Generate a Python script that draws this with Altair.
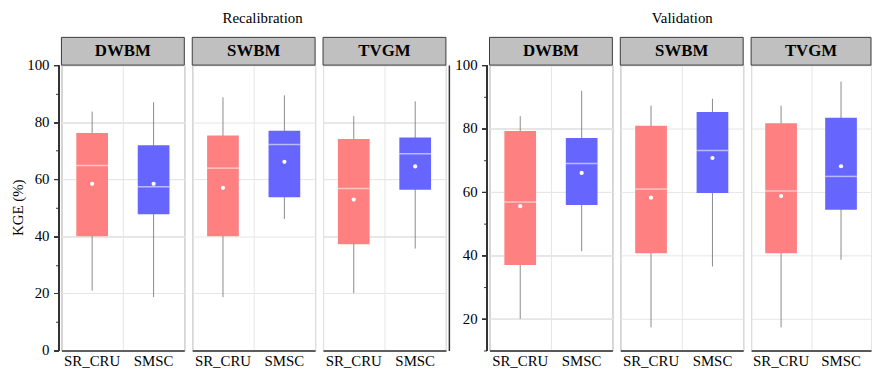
import altair as alt
import pandas as pd

groups = ["Recalibration", "Validation"]
models = ["DWBM", "SWBM", "TVGM"]
sources = ["SR_CRU", "SMSC"]

# order: group -> model -> source
lower  = [21.0, 18.7, 18.7, 46.1, 20.1, 35.7,   20.0, 41.3, 17.3, 36.5, 17.3, 38.6]
q1     = [40.0, 47.7, 40.0, 53.7, 37.2, 56.3,   37.0, 55.9, 40.7, 59.7, 40.7, 54.4]
median = [64.8, 57.4, 63.9, 72.2, 56.8, 68.9,   56.8, 69.0, 60.9, 73.1, 60.3, 64.9]
q3     = [76.2, 71.9, 75.3, 77.0, 74.1, 74.6,   79.2, 77.0, 80.9, 85.2, 81.7, 83.4]
upper  = [83.7, 87.0, 88.7, 89.4, 82.1, 87.3,   83.9, 91.9, 87.2, 89.4, 87.2, 94.8]
mean   = [58.4, 58.4, 57.0, 66.1, 52.9, 64.5,   55.5, 66.0, 58.2, 70.7, 58.7, 68.1]

y_domains = {"Recalibration": [0, 100], "Validation": [10, 100]}
y_major = {"Recalibration": [0, 20, 40, 60, 80, 100], "Validation": [20, 40, 60, 80, 100]}
y_minor = [10, 30, 50, 70, 90]
y_title = "KGE (%)"
colors = ["#ff8080", "#6666ff"]

rows = []
i = 0
for g in groups:
    for m in models:
        for s in sources:
            rows.append(dict(group=g, model=m, source=s, lower=lower[i], q1=q1[i],
                             median=median[i], q3=q3[i], upper=upper[i], mean=mean[i]))
            i += 1
df = pd.DataFrame(rows)

FONT = "Liberation Serif"
H = 288


def panel(group, model, width, first, right_line):
    sub = df[(df.group == group) & (df.model == model)]
    yscale = alt.Scale(domain=y_domains[group], nice=False, zero=False)
    xscale = alt.Scale(domain=sources, paddingInner=0, paddingOuter=0)
    xenc = alt.X("source:N", sort=sources, scale=xscale,
                 axis=alt.Axis(title=None, tickBand="extent", ticks=False, labels=False,
                               grid=True, gridColor="#e6e6e6", domainColor="#333333",
                               domainWidth=1.5))
    if first:
        yaxis = alt.Axis(values=y_major[group], title=None, labels=False,
                         grid=True, gridColor="#e6e6e6", tickSize=5, orient="left", offset=3,
                         domainColor="#333333", domainWidth=1.5, tickColor="#333333")
    else:
        yaxis = alt.Axis(values=y_major[group], title=None, labels=False, ticks=False,
                         domain=False, grid=True, gridColor="#e6e6e6", orient="left")
    base = alt.Chart(sub)
    whisk = base.mark_rule(color="#8a8a8a", strokeWidth=1).encode(
        x=xenc, y=alt.Y("lower:Q", scale=yscale, axis=yaxis), y2="upper:Q")
    box = base.mark_bar(size=32).encode(
        x=xenc, y=alt.Y("q1:Q", scale=yscale, axis=yaxis), y2="q3:Q",
        color=alt.Color("source:N", scale=alt.Scale(domain=sources, range=colors), legend=None))
    med = base.mark_tick(size=32, thickness=1.5, color="white", opacity=0.55).encode(
        x=xenc, y=alt.Y("median:Q", scale=yscale, axis=yaxis))
    mn = base.mark_circle(size=18, color="white", opacity=1).encode(
        x=xenc, y=alt.Y("mean:Q", scale=yscale, axis=yaxis))
    # x tick labels as text
    xlab = base.mark_text(font=FONT, fontSize=15, color="black", baseline="top").encode(
        x=alt.X("source:N", sort=sources, scale=xscale), y=alt.value(H + 4), text="source:N")
    strip_df = pd.DataFrame({"model": [model]})
    strip = alt.Chart(strip_df).mark_rect(fill="#c0c0c0", stroke="#3a3a3a", strokeWidth=1).encode(
        x=alt.value(0), x2=alt.value(width), y=alt.value(-28), y2=alt.value(0))
    label = alt.Chart(strip_df).mark_text(font=FONT, fontSize=17, fontWeight="bold",
                                          color="black").encode(
        x=alt.value(width / 2), y=alt.value(-14), text="model:N")
    layers = [whisk, box, med, mn, xlab, strip, label]
    independent = False
    if first:
        tick_df = pd.DataFrame({"v": y_major[group]})
        ylab = alt.Chart(tick_df).mark_text(font=FONT, fontSize=15, color="black", align="right",
                                            baseline="middle").encode(
            x=alt.value(-12), y=alt.Y("v:Q", scale=yscale, axis=yaxis), text="v:Q")
        layers.append(ylab)
        if group == "Recalibration":
            t_df = pd.DataFrame({"t": [y_title]})
            ytl = alt.Chart(t_df).mark_text(font=FONT, fontSize=15, color="black", angle=270,
                                            align="center", baseline="middle").encode(
                x=alt.value(-44), y=alt.value(H / 2), text="t:N")
            layers.append(ytl)
        layers.append(base.mark_point(opacity=0).encode(
            x=xenc,
            y=alt.Y("median:Q", scale=yscale,
                    axis=alt.Axis(values=y_minor, labels=False, domain=False, grid=False,
                                  tickSize=3, orient="left", offset=3, title=None,
                                  tickColor="#333333"))))
        independent = True
    if right_line:
        layers.append(base.mark_point(opacity=0).encode(
            x=xenc,
            y=alt.Y("median:Q", scale=yscale,
                    axis=alt.Axis(labels=False, ticks=False, grid=False, domain=True,
                                  orient="right", offset=3, title=None,
                                  domainColor="#333333", domainWidth=1.5))))
        independent = True
    ch = alt.layer(*layers)
    if independent:
        ch = ch.resolve_axis(y="independent")
    return ch.properties(width=width, height=H)


group_charts = []
for g in groups:
    panels = []
    for k, m in enumerate(models):
        w = 124
        if g == "Validation" and k == 2:
            w = 121
        panels.append(panel(g, m, w, k == 0, g == "Recalibration" and k == 2))
    gc = alt.hconcat(*panels, spacing=6).resolve_scale(x="independent", y="independent").properties(
        title=alt.TitleParams(text=g, anchor="middle", fontSize=15, font=FONT,
                              fontWeight="normal", color="black", offset=10,
                              dx=33 if g == "Recalibration" else 19))
    group_charts.append(gc)

chart = alt.hconcat(*group_charts, spacing=5).resolve_scale(
    x="independent", y="independent", color="shared"
).properties(
    padding={"left": 10, "top": 10, "right": 0, "bottom": 0}
).configure(font=FONT).configure_view(
    stroke="#8c8c8c", strokeWidth=1
)

chart.save("out.html", embed_options={"renderer": "svg", "actions": False})
